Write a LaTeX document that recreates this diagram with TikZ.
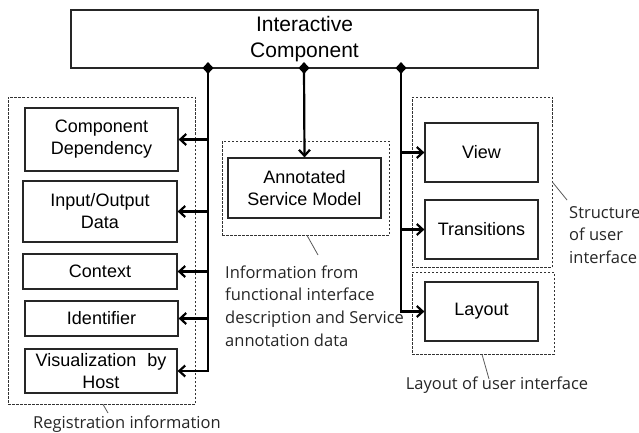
\documentclass[tikz,border=0pt]{standalone}
\usepackage{fontspec}
\setmainfont{Liberation Sans}
\newfontfamily\notefont{Open Sans}
\usetikzlibrary{arrows.meta,shapes.geometric}

\begin{document}
\begin{tikzpicture}[x=1pt,y=-1pt,
  box/.style n args={2}{draw=black!85, line width=1.2pt, rectangle, inner sep=0pt,
      align=center, minimum width=#1pt, minimum height=#2pt,
      font=\fontsize{18}{22}\selectfont},
  grp/.style n args={2}{draw=black!80, line width=0.7pt, dash pattern=on 2.5pt off 1.5pt,
      rectangle, inner sep=0pt, minimum width=#1pt, minimum height=#2pt},
  dia/.style={diamond, fill=black, inner sep=0pt, minimum width=11pt, minimum height=12pt},
  trunk/.style={line width=2.2pt, black},
  arr/.style={line width=2.2pt, black, -{Straight Barb[length=6pt,width=11pt]}},
  ptr/.style={line width=0.8pt, black!65},
  note/.style={inner sep=0pt, text=black!85, align=left,
      font=\notefont\fontsize{16.5}{22.7}\selectfont}]

  \useasboundingbox (0,0) rectangle (639,433);

  % top component
  \node[box={467}{58}, font=\fontsize{21}{26}\selectfont] (ic) at (304.5,39)
    {Interactive\\Component};

  % grouping frames
  \node[grp={187}{307}] (reg) at (101.5,250.5) {};
  \node[grp={167}{94}] (svc) at (305.5,188) {};
  \node[grp={140}{170}] (uis) at (482,182) {};
  \node[grp={142}{82}] (uil) at (483,313) {};

  % registration information
  \node[box={153}{63}] (cd) at (101.5,139.5) {Component\\Dependency};
  \node[box={154}{61}] (io) at (100,211.5) {Input/Output\\Data};
  \node[box={154}{35}] (ctx) at (100,271.5) {Context};
  \node[box={153}{35}] (idf) at (101.5,318.5) {Identifier};
  \node[box={152}{44}] (vis) at (101,371) {Visualization\hspace{6pt} by\\Host};

  % service model
  \node[box={153}{60}] (asm) at (304.5,188) {Annotated\\Service Model};

  % user interface
  \node[box={113}{59}] (view) at (481.5,152.5) {View};
  \node[box={113}{59}] (tr) at (481.5,229.5) {Transitions};
  \node[box={113}{59}] (lay) at (481.5,311.5) {Layout};

  % composition diamonds on the component
  \node[dia] (d1) at (208,68) {};
  \node[dia] (d2) at (304,68) {};
  \node[dia] (d3) at (401,68) {};

  % left trunk
  \draw[arr] (d1.center) -- (d1 |- vis.east) -- (vis.east);
  \draw[arr] (d1 |- cd.east) -- (cd.east);
  \draw[arr] (d1 |- io.east) -- (io.east);
  \draw[arr] (d1 |- ctx.east) -- (ctx.east);
  \draw[arr] (d1 |- idf.east) -- (idf.east);

  % middle
  \draw[arr] (d2.center) -- (asm.north);

  % right trunk
  \draw[arr] (d3.center) -- (d3 |- lay.west) -- (lay.west);
  \draw[arr] (d3 |- view.west) -- (view.west);
  \draw[arr] (d3 |- tr.west) -- (tr.west);

  % notes
  \node[note, anchor=west] (ninfo) at (225,306)
    {Information from\\functional interface\\description and Service\\annotation data};
  \node[note, anchor=west] (nstr) at (569,235) {Structure\\of user\\interface};
  \node[note] (nlay) at (497,385) {Layout of user interface};
  \node[note] (nreg) at (127,424) {Registration information};

  \coordinate (pinfo) at (318,255);
  \coordinate (pstr) at (567,200);
  \coordinate (play) at (489,379);
  \coordinate (preg) at (108,413);
  \draw[ptr] ([xshift=1.5pt]svc.south) -- (pinfo);
  \draw[ptr] (uis.east) -- (pstr);
  \draw[ptr] ([xshift=-1pt]uil.south) -- (play);
  \draw[ptr] ([xshift=1.5pt]reg.south) -- (preg);
\end{tikzpicture}
\end{document}
